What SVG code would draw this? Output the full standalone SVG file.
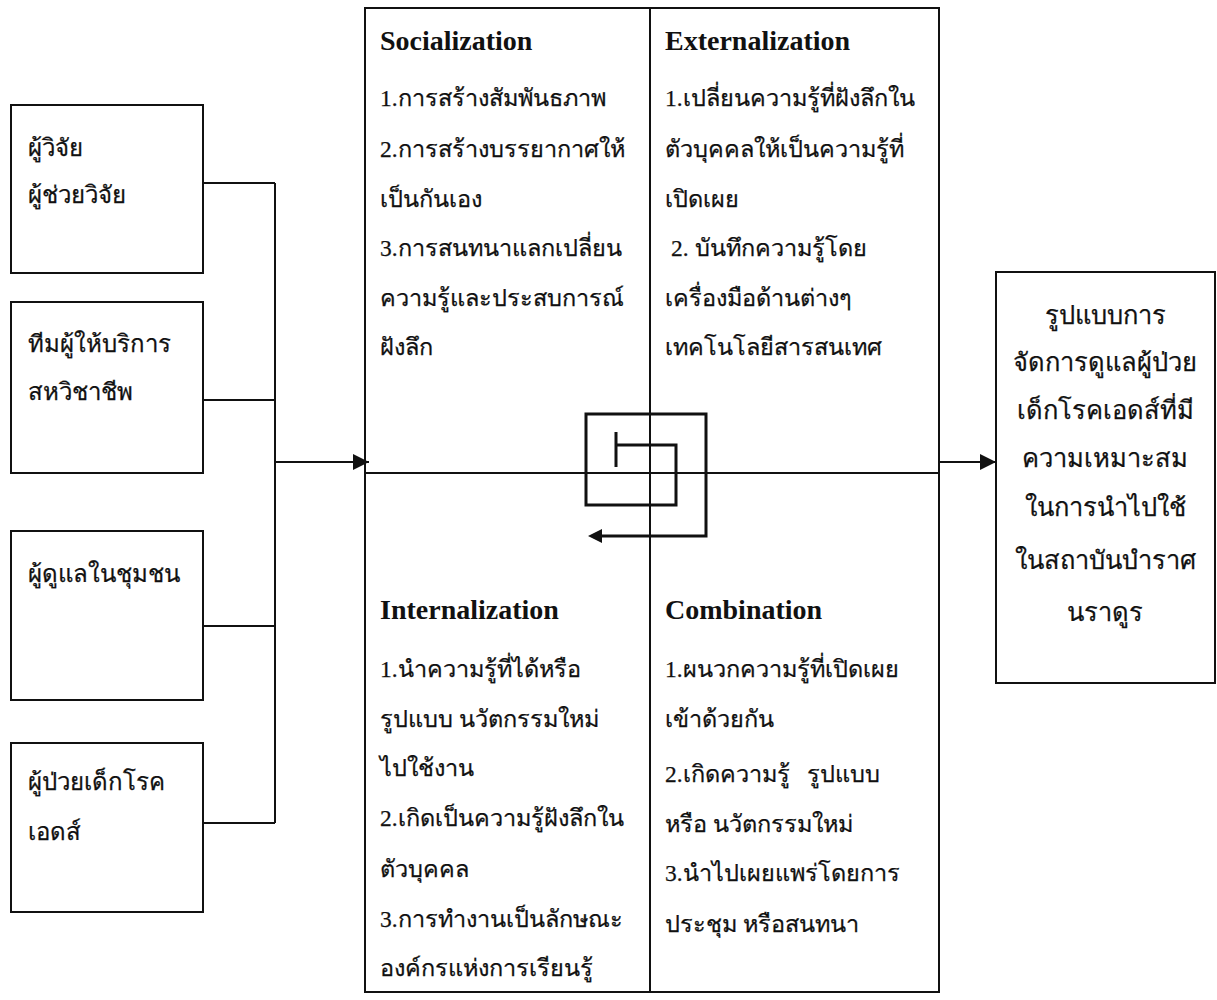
<svg xmlns="http://www.w3.org/2000/svg" width="1217" height="1000" viewBox="0 0 1217 1000">
  <style>
    .box { fill: #ffffff; stroke: #111111; stroke-width: 2; }
    .line { fill: none; stroke: #111111; stroke-width: 2; }
    .spiral { fill: none; stroke: #111111; stroke-width: 3; }
    .th { font-family: "Liberation Serif", "DejaVu Serif", serif; font-size: 23.5px; fill: #111111; stroke: #111111; stroke-width: 0.25; }
    .side { font-size: 24px; }
    .out { font-size: 25.5px; }
    .hd { font-family: "Liberation Serif", serif; font-size: 28px; font-weight: bold; fill: #111111; }
    .mid { text-anchor: middle; }
  </style>
  <defs>
    <marker id="arrow" viewBox="0 0 10 10" refX="10" refY="5" markerWidth="16" markerHeight="16" markerUnits="userSpaceOnUse" orient="auto">
      <path d="M0,0 L10,5 L0,10 Z" fill="#111111"/>
    </marker>
  </defs>
  <rect width="1217" height="1000" fill="#ffffff"/>

  <!-- participant boxes -->
  <g id="node-researchers">
    <rect class="box" x="11" y="105" width="192" height="168"/>
    <text class="th side" x="28" y="156">ผู้วิจัย</text>
    <text class="th side" x="28" y="203">ผู้ช่วยวิจัย</text>
  </g>
  <g id="node-care-team">
    <rect class="box" x="11" y="302" width="192" height="171"/>
    <text class="th side" x="28" y="352">ทีมผู้ให้บริการ</text>
    <text class="th side" x="28" y="400">สหวิชาชีพ</text>
  </g>
  <g id="node-community">
    <rect class="box" x="11" y="531" width="192" height="169"/>
    <text class="th side" x="28" y="582">ผู้ดูแลในชุมชน</text>
  </g>
  <g id="node-patients">
    <rect class="box" x="11" y="743" width="192" height="169"/>
    <text class="th side" x="28" y="790">ผู้ป่วยเด็กโรค</text>
    <text class="th side" x="28" y="840">เอดส์</text>
  </g>

  <!-- SECI knowledge cycle -->
  <g id="node-seci">
    <rect class="box" x="365" y="8" width="574" height="984"/>
    <line class="line" x1="650" y1="8" x2="650" y2="992"/>
    <line class="line" x1="365" y1="473" x2="939" y2="473"/>

    <text class="hd" x="380" y="50">Socialization</text>
    <text class="th" x="380" y="106">1.การสร้างสัมพันธภาพ</text>
    <text class="th" x="380" y="157">2.การสร้างบรรยากาศให้</text>
    <text class="th" x="380" y="207">เป็นกันเอง</text>
    <text class="th" x="380" y="256">3.การสนทนาแลกเปลี่ยน</text>
    <text class="th" x="380" y="306">ความรู้และประสบการณ์</text>
    <text class="th" x="380" y="355">ฝังลึก</text>

    <text class="hd" x="665" y="50">Externalization</text>
    <text class="th" x="665" y="106">1.เปลี่ยนความรู้ที่ฝังลึกใน</text>
    <text class="th" x="665" y="157">ตัวบุคคลให้เป็นความรู้ที่</text>
    <text class="th" x="665" y="207">เปิดเผย</text>
    <text class="th" x="671" y="256">2. บันทึกความรู้โดย</text>
    <text class="th" x="665" y="306">เครื่องมือด้านต่างๆ</text>
    <text class="th" x="665" y="355">เทคโนโลยีสารสนเทศ</text>

    <text class="hd" x="380" y="619">Internalization</text>
    <text class="th" x="380" y="677">1.นำความรู้ที่ได้หรือ</text>
    <text class="th" x="380" y="727">รูปแบบ นวัตกรรมใหม่</text>
    <text class="th" x="380" y="776">ไปใช้งาน</text>
    <text class="th" x="380" y="826">2.เกิดเป็นความรู้ฝังลึกใน</text>
    <text class="th" x="380" y="877">ตัวบุคคล</text>
    <text class="th" x="380" y="927">3.การทำงานเป็นลักษณะ</text>
    <text class="th" x="380" y="976">องค์กรแห่งการเรียนรู้</text>

    <text class="hd" x="665" y="619">Combination</text>
    <text class="th" x="665" y="677">1.ผนวกความรู้ที่เปิดเผย</text>
    <text class="th" x="665" y="727">เข้าด้วยกัน</text>
    <text class="th" x="665" y="782" xml:space="preserve">2.เกิดความรู้   รูปแบบ</text>
    <text class="th" x="665" y="832">หรือ นวัตกรรมใหม่</text>
    <text class="th" x="665" y="881">3.นำไปเผยแพร่โดยการ</text>
    <text class="th" x="665" y="932">ประชุม หรือสนทนา</text>

    <!-- cycle symbol: square spiral ending in an arrowhead -->
    <path class="spiral" d="M616,432 L616,467 M616,445 L676,445 L676,505 L586,505 L586,414 L706,414 L706,536 L602,536"/>
    <path d="M588,536 L602,529 L602,543 Z" fill="#111111"/>
  </g>

  <!-- outcome -->
  <g id="node-outcome">
    <rect class="box" x="996" y="272" width="219" height="411"/>
    <text class="th out mid" x="1105" y="324">รูปแบบการ</text>
    <text class="th out mid" x="1105" y="371">จัดการดูแลผู้ป่วย</text>
    <text class="th out mid" x="1105" y="419">เด็กโรคเอดส์ที่มี</text>
    <text class="th out mid" x="1105" y="467">ความเหมาะสม</text>
    <text class="th out mid" x="1105" y="516">ในการนำไปใช้</text>
    <text class="th out mid" x="1105" y="569">ในสถาบันบำราศ</text>
    <text class="th out mid" x="1105" y="621">นราดูร</text>
  </g>

  <!-- connectors -->
  <g id="connectors">
    <polyline class="line" points="203,183 275,183"/>
    <polyline class="line" points="203,400 275,400"/>
    <polyline class="line" points="203,626 275,626"/>
    <polyline class="line" points="203,823 275,823"/>
    <line class="line" x1="275" y1="183" x2="275" y2="823"/>
    <line class="line" x1="275" y1="462" x2="369" y2="462" marker-end="url(#arrow)"/>
    <line class="line" x1="939" y1="462" x2="996" y2="462" marker-end="url(#arrow)"/>
  </g>
</svg>
